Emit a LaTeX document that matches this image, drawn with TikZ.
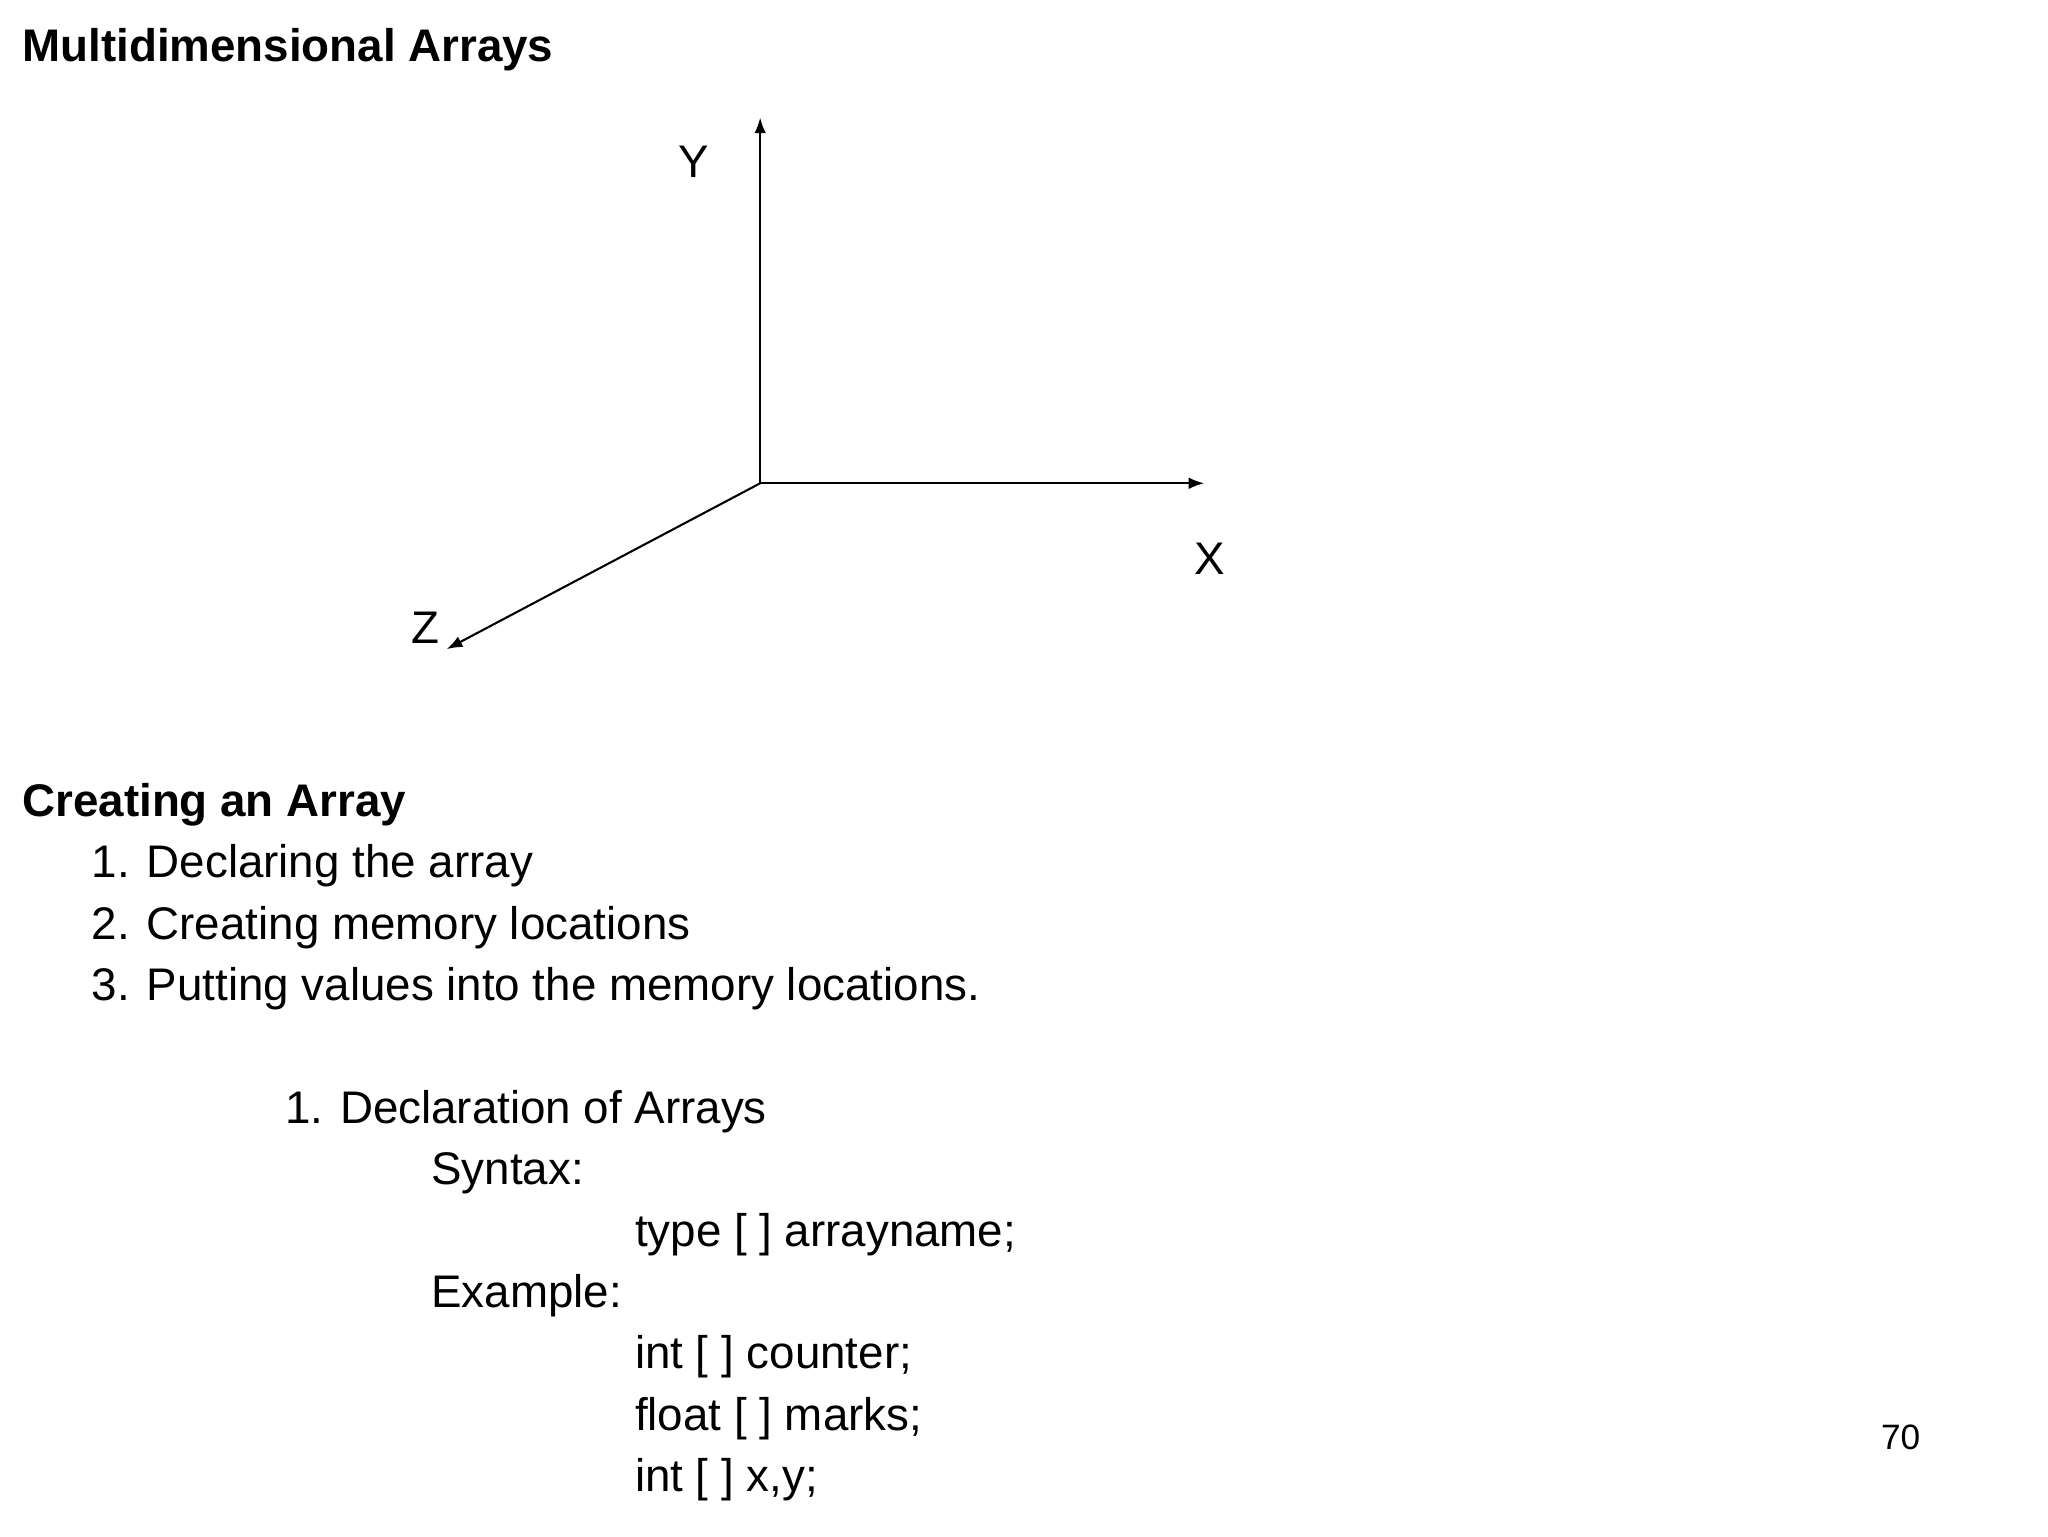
\documentclass[tikz,border=0pt]{standalone}
\usepackage{fontspec}
\setmainfont{Liberation Sans}
\usetikzlibrary{arrows.meta}
\begin{document}
\begin{tikzpicture}[x=1pt,y=-1pt,
  txt/.style={anchor=base west,inner sep=0pt,font=\fontsize{35}{40}\selectfont},
  btxt/.style={txt,font=\fontsize{35}{40}\selectfont\bfseries},
  ax/.style={line width=1.6pt,-{Latex[length=12pt,width=9pt]}}]
\useasboundingbox (0,0) rectangle (1568,1176);
\coordinate (o) at (582,370);
\coordinate (y) at (582,90);
\coordinate (x) at (922,370);
\coordinate (z) at (342,497);
\draw[ax] (o)--(y);
\draw[ax] (o)--(x);
\draw[ax] (o)--(z);
\node[txt] (ly) at (519,136) {Y};
\node[txt] (lx) at (914,440) {X};
\node[txt] (lz) at (315,493) {Z};
\node[btxt] (t1) at (17,47) {Multidimensional Arrays};
\node[btxt] (t2) at (17,625) {Creating an Array};
\node[txt] (a1) at (70,672) {1. Declaring the array};
\node[txt] (a2) at (70,719) {2. Creating memory locations};
\node[txt] (a3) at (70,766) {3. Putting values into the memory locations.};
\node[txt] (b1) at (218,860) {1. Declaration of Arrays};
\node[txt] (b2) at (330,907) {Syntax:};
\node[txt] (b3) at (486,954) {type [ ] arrayname;};
\node[txt] (b4) at (330,1001) {Example:};
\node[txt] (b5) at (486,1048) {int [ ] counter;};
\node[txt] (b6) at (486,1095) {float [ ] marks;};
\node[txt] (b7) at (486,1142) {int [ ] x,y;};
\node[txt,font=\fontsize{27}{30}\selectfont] (pg) at (1440,1110) {70};
\end{tikzpicture}
\end{document}
